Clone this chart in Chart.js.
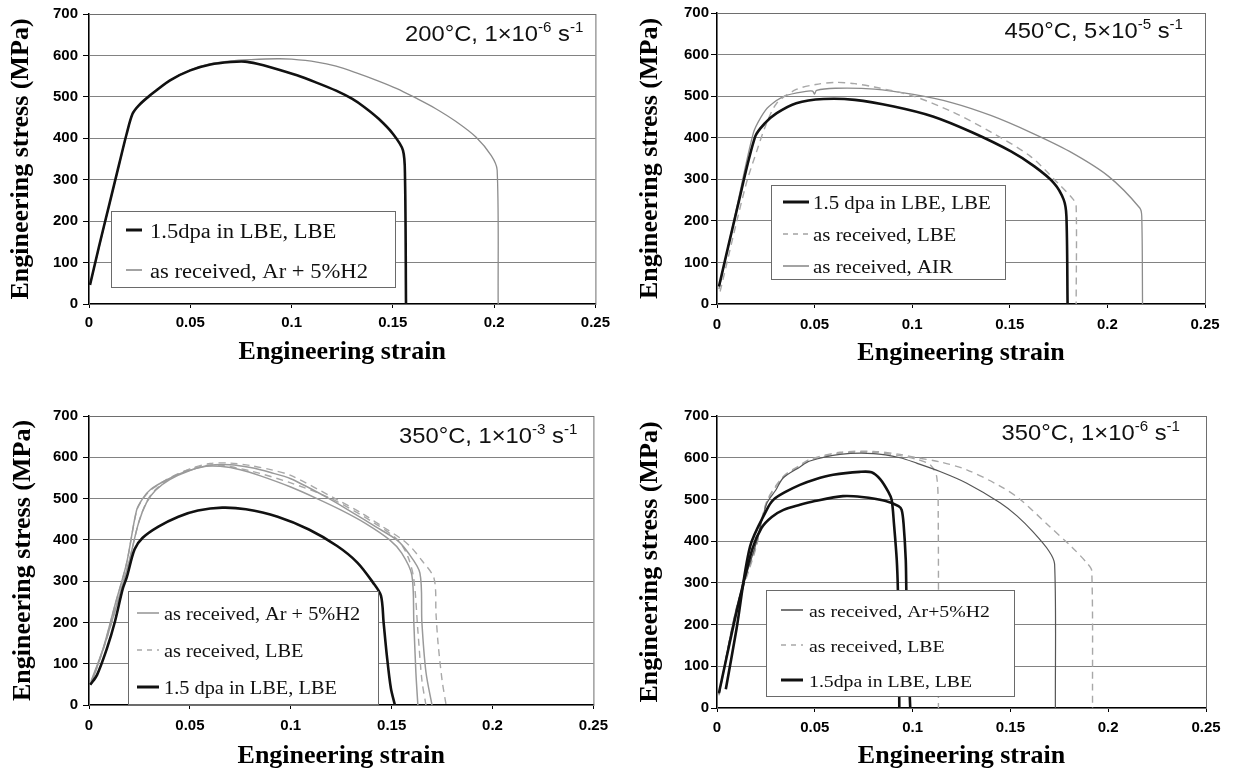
<!DOCTYPE html>
<html>
<head>
<meta charset="utf-8">
<script src="https://cdn.jsdelivr.net/npm/chart.js@4.4.0/dist/chart.umd.min.js"></script>
<style>
  html, body { margin: 0; padding: 0; background: #fff; }
  #wrap { position: relative; width: 1233px; height: 774px; overflow: hidden; }
  canvas { position: absolute; }
</style>
</head>
<body>
<div id="wrap">
  <canvas id="c1" width="616" height="387" style="left:0;top:0"></canvas>
  <canvas id="c2" width="617" height="387" style="left:616px;top:0"></canvas>
  <canvas id="c3" width="616" height="387" style="left:0;top:387px"></canvas>
  <canvas id="c4" width="617" height="387" style="left:616px;top:387px"></canvas>
</div>
<script>
// axis ticks
var strainTicks = [0, 0.05, 0.1, 0.15, 0.2, 0.25];
var stressTicks = [0, 100, 200, 300, 400, 500, 600, 700];

// panel 1 : 200°C, 1e-6 /s   [strain, stress MPa]
var p1Dpa = [[0.0005,46],[0.005,140],[0.01,240],[0.015,340],[0.0186,411],[0.0215,459],[0.0245,479],[0.03,503],[0.04,540],[0.05,564],[0.06,578],[0.07,584],[0.077,585],[0.083,580],[0.09,571],[0.1027,552],[0.112,535],[0.122,515],[0.13,495],[0.136,475],[0.143,447],[0.15,411],[0.155,371],[0.156,307],[0.1565,0]];
var p1ArH2 = [[0.0005,46],[0.0186,411],[0.0215,459],[0.0245,479],[0.03,503],[0.04,540],[0.05,565],[0.06,580],[0.07,587],[0.08,590],[0.093,592],[0.1,591],[0.1125,584],[0.122,574],[0.132,558],[0.142,540],[0.152,520],[0.161,498],[0.171,472],[0.181,441],[0.191,403],[0.1986,358],[0.2015,323],[0.202,0]];

// panel 2 : 450°C, 5e-5 /s
var p2Dpa = [[0.001,42],[0.0106,235],[0.0196,403],[0.0246,435],[0.0306,459],[0.0406,483],[0.0546,493],[0.0706,491],[0.0906,475],[0.1106,451],[0.1306,413],[0.1506,367],[0.1626,331],[0.1726,291],[0.1776,251],[0.179,211],[0.1796,0]];
var p2Lbe = [[0.0016,30],[0.0146,283],[0.0206,371],[0.025,430],[0.0306,483],[0.0406,516],[0.0506,528],[0.0606,533],[0.0706,530],[0.0806,522],[0.1006,500],[0.1206,462],[0.1406,413],[0.1606,355],[0.1746,291],[0.1826,251],[0.184,235],[0.184,0]];
var p2Air = [[0.001,36],[0.01,230],[0.0186,411],[0.0226,450],[0.0266,475],[0.0346,500],[0.0466,512],[0.049,512],[0.05,505],[0.051,514],[0.0606,519],[0.0806,517],[0.1006,504],[0.1206,484],[0.1406,453],[0.1606,413],[0.1806,367],[0.2006,307],[0.2166,231],[0.2176,211],[0.218,0]];

// panel 3 : 350°C, 1e-3 /s
var p3ArH2a = [[0.001,57],[0.007,137],[0.0128,241],[0.0187,345],[0.0236,472],[0.0266,500],[0.0305,522],[0.0384,545],[0.0482,566],[0.058,578],[0.065,578],[0.075,570],[0.085,555],[0.1,528],[0.113,500],[0.125,472],[0.137,440],[0.149,400],[0.155,368],[0.16,315],[0.161,200],[0.162,80],[0.163,0]];
var p3ArH2b = [[0.001,50],[0.008,150],[0.0145,255],[0.02,350],[0.0245,440],[0.0285,490],[0.033,520],[0.04,546],[0.05,568],[0.06,581],[0.07,582],[0.08,575],[0.09,563],[0.1,548],[0.119,500],[0.13,468],[0.142,432],[0.1525,400],[0.158,370],[0.164,320],[0.165,200],[0.167,80],[0.17,0]];
var p3LbeA = [[0.001,55],[0.007,135],[0.0128,240],[0.0187,345],[0.0236,470],[0.0266,498],[0.0305,520],[0.0384,546],[0.0482,568],[0.058,580],[0.065,581],[0.08,567],[0.1,538],[0.12,500],[0.14,445],[0.153,400],[0.158,360],[0.161,305],[0.163,180],[0.165,60],[0.167,0]];
var p3LbeB = [[0.001,50],[0.008,148],[0.0145,255],[0.02,350],[0.0245,440],[0.0285,492],[0.033,522],[0.04,548],[0.05,572],[0.06,585],[0.07,586],[0.08,580],[0.09,570],[0.1,556],[0.122,500],[0.135,465],[0.1455,432],[0.1555,400],[0.16,380],[0.165,350],[0.171,307],[0.172,220],[0.173,150],[0.175,60],[0.177,0]];
var p3Dpa = [[0.0006,49],[0.004,73],[0.0089,137],[0.0128,201],[0.0167,281],[0.0187,309],[0.0226,377],[0.0266,405],[0.0344,432],[0.0443,456],[0.054,471],[0.066,478],[0.0778,474],[0.0935,456],[0.109,425],[0.123,385],[0.133,345],[0.1407,297],[0.1447,265],[0.146,201],[0.1476,121],[0.1496,41],[0.1516,0]];

// panel 4 : 350°C, 1e-6 /s
var p4ArH2 = [[0.001,33],[0.01,241],[0.02,395],[0.0254,490],[0.03,522],[0.0339,552],[0.0424,578],[0.0475,592],[0.0629,608],[0.08,610],[0.0936,600],[0.1021,587],[0.114,567],[0.1277,539],[0.1447,492],[0.1535,460],[0.1616,422],[0.1696,377],[0.1726,345],[0.173,0]];
var p4LbeLong = [[0.001,33],[0.01,241],[0.02,390],[0.0254,495],[0.0339,555],[0.0424,582],[0.0475,596],[0.0629,613],[0.08,615],[0.0936,608],[0.1021,600],[0.114,590],[0.1277,571],[0.1447,532],[0.155,500],[0.1696,437],[0.1816,385],[0.1896,345],[0.1916,329],[0.192,0]];
var p4LbeShort = [[0.001,30],[0.01,235],[0.02,385],[0.0254,492],[0.0339,553],[0.0424,580],[0.0475,594],[0.0629,611],[0.08,613],[0.0936,605],[0.103,595],[0.109,583],[0.1123,555],[0.1131,459],[0.1132,0]];
var p4DpaA = [[0.0045,45],[0.01,190],[0.0169,387],[0.0254,475],[0.0288,499],[0.035,518],[0.0424,535],[0.05,548],[0.0594,559],[0.073,566],[0.079,565],[0.0835,548],[0.0876,518],[0.0893,499],[0.0905,440],[0.0919,355],[0.0925,280],[0.093,150],[0.0932,0]];
var p4DpaB = [[0.001,36],[0.01,230],[0.018,380],[0.0228,432],[0.028,458],[0.034,475],[0.0424,487],[0.05,496],[0.0644,508],[0.074,506],[0.0858,497],[0.0928,484],[0.0944,475],[0.0954,441],[0.0965,355],[0.0968,281],[0.0975,150],[0.0988,0]];

// legend labels and in-plot conditions
var legend1 = ["1.5dpa in LBE, LBE", "as received, Ar + 5%H2"];
var legend2 = ["1.5 dpa in LBE, LBE", "as received, LBE", "as received, AIR"];
var legend3 = ["as received, Ar + 5%H2", "as received, LBE", "1.5 dpa in LBE, LBE"];
var legend4 = ["as received, Ar+5%H2", "as received, LBE", "1.5dpa in LBE, LBE"];
var cond1 = ["200°C, 1×10", "-6", " s", "-1"];
var cond2 = ["450°C, 5×10", "-5", " s", "-1"];
var cond3 = ["350°C, 1×10", "-3", " s", "-1"];
var cond4 = ["350°C, 1×10", "-6", " s", "-1"];

var SERIF = '"Liberation Serif", "Times New Roman", serif';
var SANS = '"Liberation Sans", Arial, sans-serif';

var BLACK = { color: "#111", width: 2.6, dash: [] };
var GRAY = { color: "#8c8c8c", width: 1.3, dash: [] };
var DASH = { color: "#a8a8a8", width: 1.4, dash: [7, 5] };

function series(points, label, st) {
  return {
    label: label,
    data: points.map(function (p) { return { x: p[0], y: p[1] }; }),
    borderColor: st.color,
    borderWidth: st.width,
    borderDash: st.dash,
    showLine: true,
    pointRadius: 0,
    tension: 0.3,
    fill: false
  };
}

// frame, legend box and condition text
var panelDecor = {
  id: "panelDecor",
  beforeDatasetsDraw: function (chart) {
    var a = chart.chartArea, ctx = chart.ctx;
    ctx.save();
    ctx.strokeStyle = "#6e6e6e";
    ctx.lineWidth = 1;
    ctx.strokeRect(Math.round(a.left) + 0.5, Math.round(a.top) + 0.5, a.right - a.left, a.bottom - a.top);
    ctx.restore();
  },
  afterDatasetsDraw: function (chart, args, o) {
    var a = chart.chartArea, ctx = chart.ctx;
    var lg = o.legend;
    ctx.save();
    // legend
    var bx = a.left + lg.x, by = a.top + lg.y;
    ctx.fillStyle = "#fff";
    ctx.fillRect(bx, by, lg.w, lg.h);
    ctx.strokeStyle = "#6a6a6a";
    ctx.lineWidth = 1;
    ctx.strokeRect(Math.round(bx) + 0.5, Math.round(by) + 0.5, lg.w, lg.h);
    ctx.font = lg.size + "px " + SERIF;
    ctx.textBaseline = "alphabetic";
    lg.labels.forEach(function (lab, i) {
      var ds = chart.data.datasets.find(function (d) { return d.label === lab; });
      var ry = by + lg.rows[i];
      ctx.beginPath();
      ctx.strokeStyle = ds.borderColor;
      ctx.lineWidth = ds.borderWidth > 2 ? 3 : 1.6;
      ctx.setLineDash(ds.borderDash.length ? [5, 5] : []);
      ctx.moveTo(bx + lg.lineX[0], ry);
      ctx.lineTo(bx + lg.lineX[1], ry);
      ctx.stroke();
      ctx.setLineDash([]);
      ctx.fillStyle = "#111";
      ctx.save();
      ctx.translate(bx + lg.textX, ry + lg.size * 0.4);
      ctx.scale(1.13, 1);
      ctx.fillText(lab, 0, 0);
      ctx.restore();
    });
    // condition text with superscripts
    var sx = 1.08, big = "22px " + SANS, small = "14px " + SANS;
    var segs = o.cond.map(function (t, i) { return { t: t, sup: i % 2 === 1 }; });
    var total = 0;
    segs.forEach(function (s) { ctx.font = s.sup ? small : big; s.w = ctx.measureText(s.t).width * sx; total += s.w; });
    var x = a.right - o.condRight - total, y = a.top + o.condBase;
    ctx.fillStyle = "#111";
    segs.forEach(function (s) {
      ctx.font = s.sup ? small : big;
      ctx.save();
      ctx.translate(x, s.sup ? y - 9 : y);
      ctx.scale(sx, 1);
      ctx.fillText(s.t, 0, 0);
      ctx.restore();
      x += s.w;
    });
    ctx.restore();
  }
};

function makePanel(id, datasets, p) {
  return new Chart(document.getElementById(id), {
    type: "scatter",
    data: { datasets: datasets },
    options: {
      responsive: false,
      animation: false,
      layout: { padding: { top: p.padTop, right: p.padRight, left: 0, bottom: 0 } },
      scales: {
        x: {
          type: "linear", min: 0, max: 0.25,
          afterFit: function (s) { s.height = p.xHeight; },
          afterBuildTicks: function (s) { s.ticks = strainTicks.map(function (v) { return { value: v }; }); },
          grid: { drawOnChartArea: false, drawTicks: true, tickLength: 4, color: "#000" },
          border: { color: "#000", width: 1.5 },
          ticks: { padding: p.xTickPad, color: "#000", maxRotation: 0, autoSkip: false,
                   font: { family: SANS, size: 15, weight: "bold" },
                   callback: function (v) { return String(v); } },
          title: { display: true, text: "Engineering strain", color: "#000",
                   font: { family: SERIF, size: 26, weight: "bold" },
                   padding: { top: 0, bottom: p.xTitlePad } }
        },
        y: {
          type: "linear", min: 0, max: 700,
          afterFit: function (s) { s.width = p.yWidth; },
          afterBuildTicks: function (s) { s.ticks = stressTicks.map(function (v) { return { value: v }; }); },
          grid: { color: "#828282", lineWidth: 1, tickLength: 6, tickColor: "#000" },
          border: { color: "#000", width: 1.5 },
          ticks: { padding: p.yTickPad, color: "#000",
                   font: { family: SANS, size: 15, weight: "bold" },
                   callback: function (v) { return String(v); } },
          title: { display: true, text: "Engineering stress (MPa)", color: "#000",
                   font: { family: SERIF, size: 26, weight: "bold" },
                   padding: { top: p.yTitlePad, bottom: 0 } }
        }
      },
      plugins: {
        legend: { display: false },
        tooltip: { enabled: false },
        panelDecor: { legend: p.legend, cond: p.cond, condRight: p.condRight, condBase: p.condBase }
      }
    },
    plugins: [panelDecor]
  });
}

makePanel("c1", [
  series(p1Dpa, legend1[0], BLACK),
  series(p1ArH2, legend1[1], GRAY)
], { padTop: 13, padRight: 16, yWidth: 89, xHeight: 83, xTickPad: 6, yTickPad: 5, xTitlePad: 19, yTitlePad: 6,
     cond: cond1, condRight: 12, condBase: 27,
     legend: { labels: legend1, x: 22, y: 197, w: 284, h: 76, rows: [19, 59], lineX: [15, 31], textX: 39, size: 20 } });

makePanel("c2", [
  series(p2Dpa, legend2[0], BLACK),
  series(p2Lbe, legend2[1], DASH),
  series(p2Air, legend2[2], GRAY)
], { padTop: 13, padRight: 28, yWidth: 101, xHeight: 83, xTickPad: 8, yTickPad: 2, xTitlePad: 18, yTitlePad: 19,
     cond: cond2, condRight: 22, condBase: 25,
     legend: { labels: legend2, x: 54, y: 172, w: 234, h: 94, rows: [17, 49, 81], lineX: [12, 38], textX: 42, size: 18.5 } });

makePanel("c3", [
  series(p3Dpa, legend3[2], BLACK),
  series(p3ArH2a, legend3[0], { color: "#9a9a9a", width: 1.5, dash: [] }),
  series(p3ArH2b, legend3[0] + " ", { color: "#9a9a9a", width: 1.5, dash: [] }),
  series(p3LbeA, legend3[1] + " ", DASH),
  series(p3LbeB, legend3[1], DASH)
], { padTop: 29, padRight: 20, yWidth: 89, xHeight: 69, xTickPad: 8, yTickPad: 5, xTitlePad: 2, yTitlePad: 8,
     cond: cond3, condRight: 16, condBase: 27,
     legend: { labels: legend3, x: 39, y: 175, w: 250, h: 113, rows: [22, 59, 96], lineX: [9, 31], textX: 36, size: 18 } });

makePanel("c4", [
  series(p4DpaA, legend4[2], BLACK),
  series(p4DpaB, legend4[2] + " ", BLACK),
  series(p4ArH2, legend4[0], { color: "#555", width: 1.2, dash: [] }),
  series(p4LbeShort, legend4[1], DASH),
  series(p4LbeLong, legend4[1] + " ", DASH)
], { padTop: 29, padRight: 27, yWidth: 101, xHeight: 66, xTickPad: 7, yTickPad: 2, xTitlePad: 2, yTitlePad: 19,
     cond: cond4, condRight: 26, condBase: 24,
     legend: { labels: legend4, x: 49, y: 174, w: 248, h: 106, rows: [20, 55, 90], lineX: [15, 37], textX: 43, size: 17.5 } });
</script>
</body>
</html>
